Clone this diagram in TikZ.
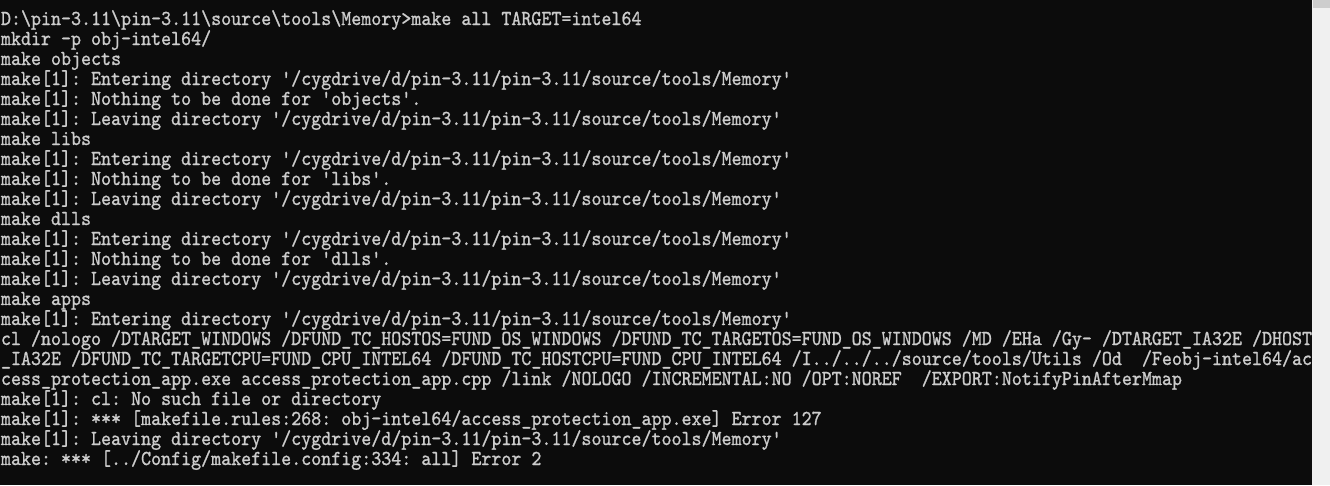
\documentclass[tikz,border=0pt]{standalone}
\usepackage{fontspec}
\setmonofont{lmmono10-regular.otf}[FakeStretch=0.895,FakeBold=1]
\definecolor{termbg}{HTML}{0C0C0C}
\definecolor{termfg}{HTML}{CCCCCC}
\definecolor{scrollbg}{HTML}{F0F0F0}
\definecolor{scrollthumb}{HTML}{CDCDCD}
\newcommand{\bs}{\textbackslash}
\newcommand{\us}{\_}
\begin{document}
\begin{tikzpicture}[x=1pt,y=-1pt,
  termline/.style={anchor=base west,inner sep=0pt,outer sep=0pt,text=termfg,
    font=\ttfamily\fontsize{21.3pt}{20pt}\selectfont}]
\useasboundingbox (0,0) rectangle (1330,485);
\fill[termbg] (0,0) rectangle (1312,485);
\fill[scrollbg] (1312,0) rectangle (1330,485);
\fill[scrollthumb] (1313,0) rectangle (1330,8);
\node[termline] (l1) at (1,25) {D:\bs pin-3.11\bs pin-3.11\bs source\bs tools\bs Memory>make all TARGET=intel64};
\node[termline] (l2) at (1,45) {mkdir -p obj-intel64/};
\node[termline] (l3) at (1,65) {make objects};
\node[termline] (l4) at (1,85) {make[1]: Entering directory '/cygdrive/d/pin-3.11/pin-3.11/source/tools/Memory'};
\node[termline] (l5) at (1,105) {make[1]: Nothing to be done for 'objects'.};
\node[termline] (l6) at (1,125) {make[1]: Leaving directory '/cygdrive/d/pin-3.11/pin-3.11/source/tools/Memory'};
\node[termline] (l7) at (1,145) {make libs};
\node[termline] (l8) at (1,165) {make[1]: Entering directory '/cygdrive/d/pin-3.11/pin-3.11/source/tools/Memory'};
\node[termline] (l9) at (1,185) {make[1]: Nothing to be done for 'libs'.};
\node[termline] (l10) at (1,205) {make[1]: Leaving directory '/cygdrive/d/pin-3.11/pin-3.11/source/tools/Memory'};
\node[termline] (l11) at (1,225) {make dlls};
\node[termline] (l12) at (1,245) {make[1]: Entering directory '/cygdrive/d/pin-3.11/pin-3.11/source/tools/Memory'};
\node[termline] (l13) at (1,265) {make[1]: Nothing to be done for 'dlls'.};
\node[termline] (l14) at (1,285) {make[1]: Leaving directory '/cygdrive/d/pin-3.11/pin-3.11/source/tools/Memory'};
\node[termline] (l15) at (1,305) {make apps};
\node[termline] (l16) at (1,325) {make[1]: Entering directory '/cygdrive/d/pin-3.11/pin-3.11/source/tools/Memory'};
\node[termline] (l17) at (1,345) {cl /nologo /DTARGET\us WINDOWS /DFUND\us TC\us HOSTOS=FUND\us OS\us WINDOWS /DFUND\us TC\us TARGETOS=FUND\us OS\us WINDOWS /MD /EHa /Gy- /DTARGET\us IA32E /DHOST};
\node[termline] (l18) at (1,365) {\us IA32E /DFUND\us TC\us TARGETCPU=FUND\us CPU\us INTEL64 /DFUND\us TC\us HOSTCPU=FUND\us CPU\us INTEL64 /I../../../source/tools/Utils /Od\ \ /Feobj-intel64/ac};
\node[termline] (l19) at (1,385) {cess\us protection\us app.exe access\us protection\us app.cpp /link /NOLOGO /INCREMENTAL:NO /OPT:NOREF\ \ /EXPORT:NotifyPinAfterMmap};
\node[termline] (l20) at (1,405) {make[1]: cl: No such file or directory};
\node[termline] (l21) at (1,425) {make[1]: *** [makefile.rules:268: obj-intel64/access\us protection\us app.exe] Error 127};
\node[termline] (l22) at (1,445) {make[1]: Leaving directory '/cygdrive/d/pin-3.11/pin-3.11/source/tools/Memory'};
\node[termline] (l23) at (1,465) {make: *** [../Config/makefile.config:334: all] Error 2};
\end{tikzpicture}
\end{document}
